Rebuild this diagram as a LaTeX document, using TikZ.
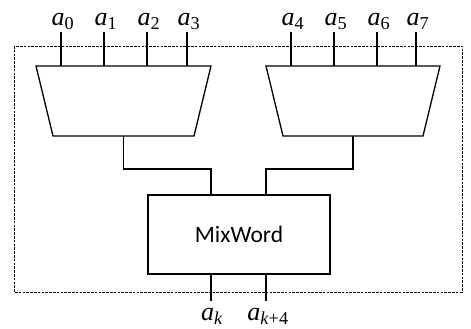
\documentclass[tikz,border=0pt]{standalone}
\usepackage{fontspec}
\setmainfont{Liberation Serif}
\newfontfamily\boxfont{Carlito}
\begin{document}
\begin{tikzpicture}[x=1pt,y=-1pt,
  wire/.style={line width=1.3pt},
  frame/.style={line width=0.9pt,dash pattern=on 2.6pt off 1.2pt},
  unit/.style={draw,line width=1.3pt,minimum width=182pt,minimum height=79pt,
    inner sep=0pt,font=\boxfont\fontsize{23.5}{26}\selectfont},
  inlbl/.style={anchor=south,inner sep=0.5pt,font=\fontsize{26}{28}\selectfont},
  outlbl/.style={anchor=north,inner sep=0.5pt,font=\fontsize{26}{28}\selectfont}]
\useasboundingbox (0,0) rectangle (471,329);

% enclosing dashed boundary
\draw[frame] (14,46) rectangle (462,292);

% two 4-to-1 reducers (wide side on top)
\coordinate (Ltop) at (123.5,66);
\coordinate (Lbot) at (123.5,136);
\coordinate (Rtop) at (353,66);
\coordinate (Rbot) at (353,136);
\draw[wire,line join=miter] ([xshift=-87.5pt]Ltop) -- ([xshift=87.5pt]Ltop)
  -- ([xshift=70.5pt]Lbot) -- ([xshift=-70.5pt]Lbot) -- cycle;
\draw[wire,line join=miter] ([xshift=-87pt]Rtop) -- ([xshift=87pt]Rtop)
  -- ([xshift=70pt]Rbot) -- ([xshift=-70pt]Rbot) -- cycle;

% mixing block
\node[unit] (M) at (239,234.5) {MixWord};

% input words
\foreach \i/\x in {0/61,1/104,2/147,3/187} {
  \node[inlbl] (a\i) at ([xshift=2pt]\x,30) {\textit{a}\textsubscript{\i}};
  \draw[wire] (\x,32) -- (\x,0 |- Ltop);
}
\foreach \i/\x in {4/291,5/334,6/377,7/416} {
  \node[inlbl] (a\i) at ([xshift=2pt]\x,30) {\textit{a}\textsubscript{\i}};
  \draw[wire] (\x,32) -- (\x,0 |- Rtop);
}

% reducer outputs into MixWord
\draw[wire] (Lbot) -- ++(0,33) -| ([xshift=-28pt]M.north);
\draw[wire] (Rbot) -- ++(0,33) -| ([xshift=27pt]M.north);

% outputs
\coordinate (ok) at ([xshift=-28pt,yshift=-26pt]M.south);
\coordinate (ok4) at ([xshift=27pt,yshift=-26pt]M.south);
\draw[wire] ([xshift=-28pt]M.south) -- (ok);
\draw[wire] ([xshift=27pt]M.south) -- (ok4);
\node[outlbl] (ak) at ([xshift=1pt,yshift=-7pt]ok) {\textit{a}\textsubscript{\textit{k}}};
\node[outlbl] (ak4) at ([xshift=2pt,yshift=-7pt]ok4) {\textit{a}\textsubscript{\textit{k}+4}};
\end{tikzpicture}
\end{document}
